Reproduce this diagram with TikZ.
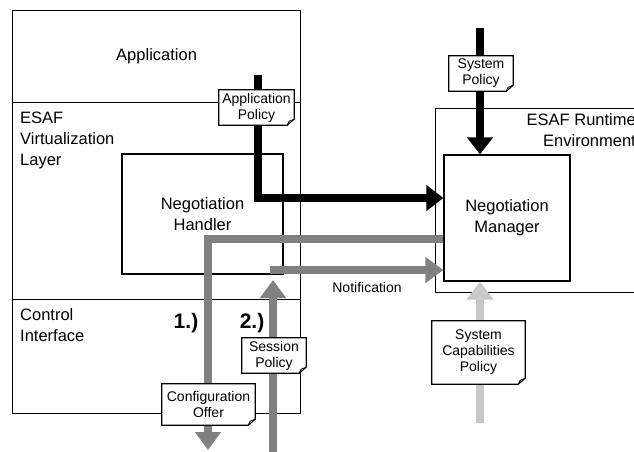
\documentclass[tikz,border=0pt]{standalone}
\usepackage{fontspec}
\setmainfont{Liberation Sans}
\usetikzlibrary{arrows.meta,positioning,calc}

\definecolor{flowgray}{RGB}{128,128,128}
\definecolor{capgray}{RGB}{200,200,200}

% outline of a policy sheet with a folded corner
\newcommand{\dogear}[1]{%
  \draw[line width=1.2pt, line join=miter] (#1.north west) -- (#1.north east) -- ([yshift=6pt]#1.south east)
    -- ([xshift=-7pt]#1.south east) -- (#1.south west) -- cycle;
  \draw[line width=0.8pt] ([yshift=6pt]#1.south east) -- ([xshift=-5pt,yshift=4pt]#1.south east) -- ([xshift=-7pt]#1.south east);}

\begin{document}
\begin{tikzpicture}[x=1pt, y=-1pt,
  font=\fontsize{16.5}{21}\selectfont,
  layer/.style={draw, line width=1.2pt, anchor=north west, minimum width=288pt, inner sep=0pt},
  blockbox/.style={draw, line width=1.2pt, align=center, inner sep=0pt},
  lbl/.style={align=left, inner sep=0pt},
  stepno/.style={inner sep=0pt, font=\bfseries\fontsize{21}{24}\selectfont},
  policy/.style={fill=white, align=center, inner sep=0pt, font=\fontsize{14}{16}\selectfont},
  blackarr/.style={line width=8pt, line join=miter, -{Triangle[length=17pt,width=25pt]}},
  grayarr/.style={line width=7.5pt, draw=flowgray, line join=miter, -{Triangle[length=18pt,width=25pt]}},
  caparr/.style={line width=8pt, draw=capgray, -{Triangle[length=18pt,width=26pt]}}
]
\useasboundingbox (0,0) rectangle (634,452);

% left column
\node[layer, minimum height=92pt] (app) at (12,10) {Application};
\node[layer, minimum height=197pt] (virt) at (12,102) {};
\node[lbl, anchor=west] (virttext) at (20,140) {ESAF\\Virtualization\\Layer};
\node[layer, minimum height=114pt] (ctrl) at (12,299) {};
\node[lbl, anchor=west] (ctrltext) at (20,325) {Control\\Interface};
\node[blockbox, minimum width=161pt, minimum height=120pt] (handler) at (202.5,214) {Negotiation\\Handler};

% runtime side
\node[layer, minimum width=230pt, minimum height=184pt] (runtime) at (435,108) {};
\node[lbl, align=right, anchor=north east] (runtext) at (636,113) {ESAF Runtime\\Environment};
\node[blockbox, minimum size=126pt] (nm) at (507,218) {Negotiation\\Manager};

% flows
\coordinate (appsrc) at (258,75);
\coordinate (appturn) at (258,198);
\coordinate (syssrc) at (480,28);
\coordinate (capsrc) at (480,423);
\coordinate (cfgturn) at (208,239);
\coordinate (cfgend) at (208,450);
\coordinate (sessrc) at (273,452);
\coordinate (sestip) at (273,280);
\coordinate (notifsrc) at (269.5,270);

\draw[blackarr] (appsrc) -- (appturn) -- (nm.west |- appturn);
\draw[blackarr] (syssrc) -- (syssrc |- nm.north);
\draw[caparr] (capsrc) -- (capsrc |- nm.south);
\draw[grayarr] (nm.west |- cfgturn) -- (cfgturn) -- (cfgend);
\draw[grayarr] (sessrc) -- (sestip);
\draw[grayarr] (notifsrc) -- (nm.west |- notifsrc);

% labels
\node[stepno] (stepone) at (186,323) {1.)};
\node[stepno] (steptwo) at (252,323) {2.)};
\node[policy, fill=none] (notif) at (367,287) {Notification};

% policies
\node[policy, minimum width=75pt, minimum height=35pt] (apppol) at (256.5,107.5) {Application\\Policy};
\dogear{apppol}
\node[policy, minimum width=64pt, minimum height=35pt] (syspol) at (481,73.5) {System\\Policy};
\dogear{syspol}
\node[policy, minimum width=64pt, minimum height=35pt] (sespol) at (274,355.5) {Session\\Policy};
\dogear{sespol}
\node[policy, minimum width=93pt, minimum height=41pt] (cfgoffer) at (208.5,404.5) {Configuration\\Offer};
\dogear{cfgoffer}
\node[policy, minimum width=93pt, minimum height=63pt] (cappol) at (478.5,352.5) {System\\Capabilities\\Policy};
\dogear{cappol}
\end{tikzpicture}
\end{document}
